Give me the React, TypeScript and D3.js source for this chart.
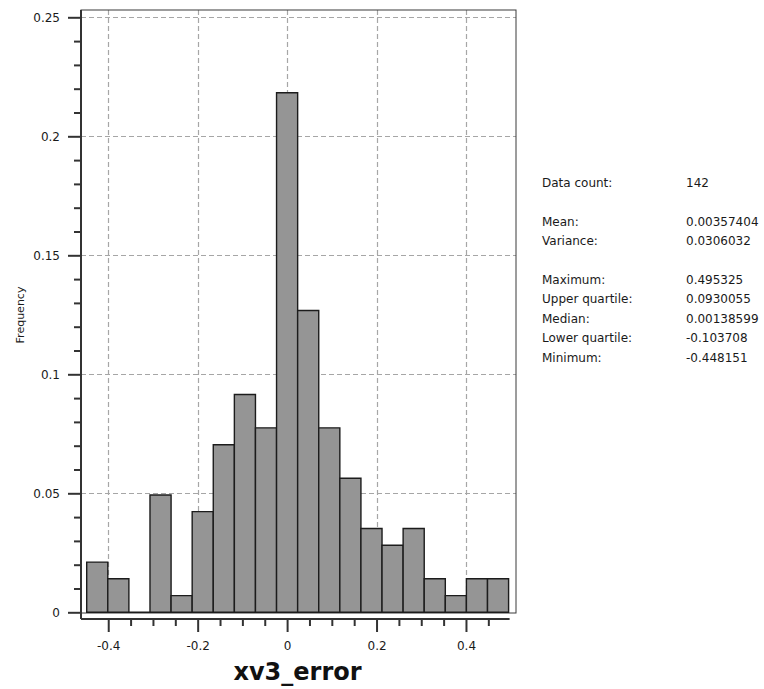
import React, { useEffect, useRef } from "react";
import * as d3 from "d3";

// histogram of xv3_error, 20 bins between min and max
const minValue = -0.448151;
const maxValue = 0.495325;
const frequencies = [
  0.0211, 0.0141, 0, 0.0493, 0.007, 0.0423, 0.0704, 0.0915, 0.0775, 0.2183,
  0.1268, 0.0775, 0.0563, 0.0352, 0.0282, 0.0352, 0.0141, 0.007, 0.0141, 0.0141,
];

const xMajorTicks = [-0.4, -0.2, 0, 0.2, 0.4];
const yMajorTicks = [0, 0.05, 0.1, 0.15, 0.2, 0.25];

const statLabels = [
  "Data count:",
  "Mean:",
  "Variance:",
  "Maximum:",
  "Upper quartile:",
  "Median:",
  "Lower quartile:",
  "Minimum:",
];
const statValues = [
  "142",
  "0.00357404",
  "0.0306032",
  "0.495325",
  "0.0930055",
  "0.00138599",
  "-0.103708",
  "-0.448151",
];
const statRows = [0, 2, 3, 5, 6, 7, 8, 9];

const xTitle = "xv3_error";
const yTitle = "Frequency";

export default function App() {
  const ref = useRef<SVGSVGElement>(null);

  useEffect(() => {
    const width = 764;
    const height = 689;
    const frame = { left: 81, right: 516, top: 10, bottom: 613 };
    const axisY = 619;
    const font = "'DejaVu Sans', Verdana, sans-serif";
    const fmt = (d: any) => String(+d);

    const svg = d3.select(ref.current);
    svg.selectAll("*").remove();
    svg.attr("width", width).attr("height", height);

    const x = d3.scaleLinear().domain([minValue, maxValue]).range([86.7, 508.6]);
    const y = d3.scaleLinear().domain([0, 0.25]).range([612.3, 17.3]);

    const binWidth = (maxValue - minValue) / frequencies.length;
    const bins = frequencies.map((f, i) => ({
      x0: minValue + i * binWidth,
      x1: minValue + (i + 1) * binWidth,
      f,
    }));

    // grid
    const grid = svg.append("g")
      .attr("stroke", "#a6a6a6")
      .attr("stroke-width", 1.2)
      .attr("stroke-dasharray", "5,3");
    grid.selectAll("line.v")
      .data(xMajorTicks)
      .join("line")
        .attr("class", "v")
        .attr("x1", d => Math.round(x(d)) + 0.5)
        .attr("x2", d => Math.round(x(d)) + 0.5)
        .attr("y1", frame.top)
        .attr("y2", frame.bottom);
    grid.selectAll("line.h")
      .data(yMajorTicks.filter(d => d > 0))
      .join("line")
        .attr("class", "h")
        .attr("x1", frame.left)
        .attr("x2", frame.right)
        .attr("y1", d => Math.round(y(d)) + 0.5)
        .attr("y2", d => Math.round(y(d)) + 0.5);

    // frame
    svg.append("rect")
      .attr("x", frame.left)
      .attr("y", frame.top)
      .attr("width", frame.right - frame.left)
      .attr("height", frame.bottom - frame.top)
      .attr("fill", "none")
      .attr("stroke", "#3a3a3a")
      .attr("stroke-width", 1);

    // bars (paths, so the empty bin still shows as a line)
    svg.append("g")
      .selectAll("path")
      .data(bins)
      .join("path")
        .attr("d", d => {
          const p = d3.path();
          p.rect(x(d.x0), y(d.f), x(d.x1) - x(d.x0), y(0) - y(d.f));
          return p.toString();
        })
        .attr("fill", "#959595")
        .attr("stroke", "#1c1c1c")
        .attr("stroke-width", 1.4);

    // y axis
    svg.append("g")
      .attr("transform", `translate(${frame.left},0)`)
      .call(d3.axisLeft(y).tickValues(yMajorTicks).tickSize(13).tickPadding(8).tickFormat(fmt))
      .call(g => g.select(".domain").remove())
      .call(g => g.selectAll(".tick line").attr("stroke", "#333").attr("stroke-width", 2))
      .call(g => g.selectAll(".tick text")
        .attr("font-family", font)
        .attr("font-size", 12)
        .attr("fill", "#1a1a1a"));
    const yMinor = d3.range(0, 0.2501, 0.01)
      .filter(v => Math.abs(v * 20 - Math.round(v * 20)) > 1e-6);
    svg.append("g")
      .attr("transform", `translate(${frame.left},0)`)
      .call(d3.axisLeft(y).tickValues(yMinor).tickSize(7).tickFormat(() => ""))
      .call(g => g.select(".domain").remove())
      .call(g => g.selectAll(".tick line").attr("stroke", "#333").attr("stroke-width", 2));
    svg.append("line")
      .attr("x1", frame.left)
      .attr("x2", frame.left)
      .attr("y1", frame.top)
      .attr("y2", axisY)
      .attr("stroke", "#333")
      .attr("stroke-width", 2);

    // x axis, offset below the frame
    svg.append("g")
      .attr("transform", `translate(0,${axisY})`)
      .call(d3.axisBottom(x).tickValues(xMajorTicks).tickSize(13).tickPadding(9).tickFormat(fmt))
      .call(g => g.select(".domain").remove())
      .call(g => g.selectAll(".tick line").attr("stroke", "#333").attr("stroke-width", 2))
      .call(g => g.selectAll(".tick text")
        .attr("font-family", font)
        .attr("font-size", 12)
        .attr("fill", "#1a1a1a"));
    const xMinor = d3.range(-0.45, 0.5001, 0.05)
      .filter(v => v >= minValue && v <= maxValue)
      .filter(v => Math.abs(v * 5 - Math.round(v * 5)) > 1e-6);
    svg.append("g")
      .attr("transform", `translate(0,${axisY})`)
      .call(d3.axisBottom(x).tickValues(xMinor).tickSize(7).tickFormat(() => ""))
      .call(g => g.select(".domain").remove())
      .call(g => g.selectAll(".tick line").attr("stroke", "#333").attr("stroke-width", 2));
    svg.append("line")
      .attr("x1", frame.left)
      .attr("x2", x(maxValue) + 1)
      .attr("y1", axisY)
      .attr("y2", axisY)
      .attr("stroke", "#333")
      .attr("stroke-width", 2);

    // titles
    svg.append("text")
      .attr("x", 297.5)
      .attr("y", 680)
      .attr("text-anchor", "middle")
      .attr("font-family", font)
      .attr("font-weight", "bold")
      .attr("font-size", 24)
      .attr("fill", "#111")
      .text(xTitle);
    svg.append("text")
      .attr("transform", "translate(24,315) rotate(-90)")
      .attr("text-anchor", "middle")
      .attr("font-family", font)
      .attr("font-size", 11)
      .attr("fill", "#1a1a1a")
      .text(yTitle);

    // statistics panel
    const stats = svg.append("g")
      .attr("font-family", font)
      .attr("font-size", 12)
      .attr("fill", "#1a1a1a");
    stats.selectAll("text.label")
      .data(statLabels)
      .join("text")
        .attr("class", "label")
        .attr("x", 542)
        .attr("y", (d, i) => 187 + statRows[i] * 19.4)
        .text(d => d);
    stats.selectAll("text.value")
      .data(statValues)
      .join("text")
        .attr("class", "value")
        .attr("x", 686)
        .attr("y", (d, i) => 187 + statRows[i] * 19.4)
        .text(d => d);
  }, []);

  return (
    <svg ref={ref} style={{ position: "absolute", left: 0, top: 0, background: "#fff" }} />
  );
}
